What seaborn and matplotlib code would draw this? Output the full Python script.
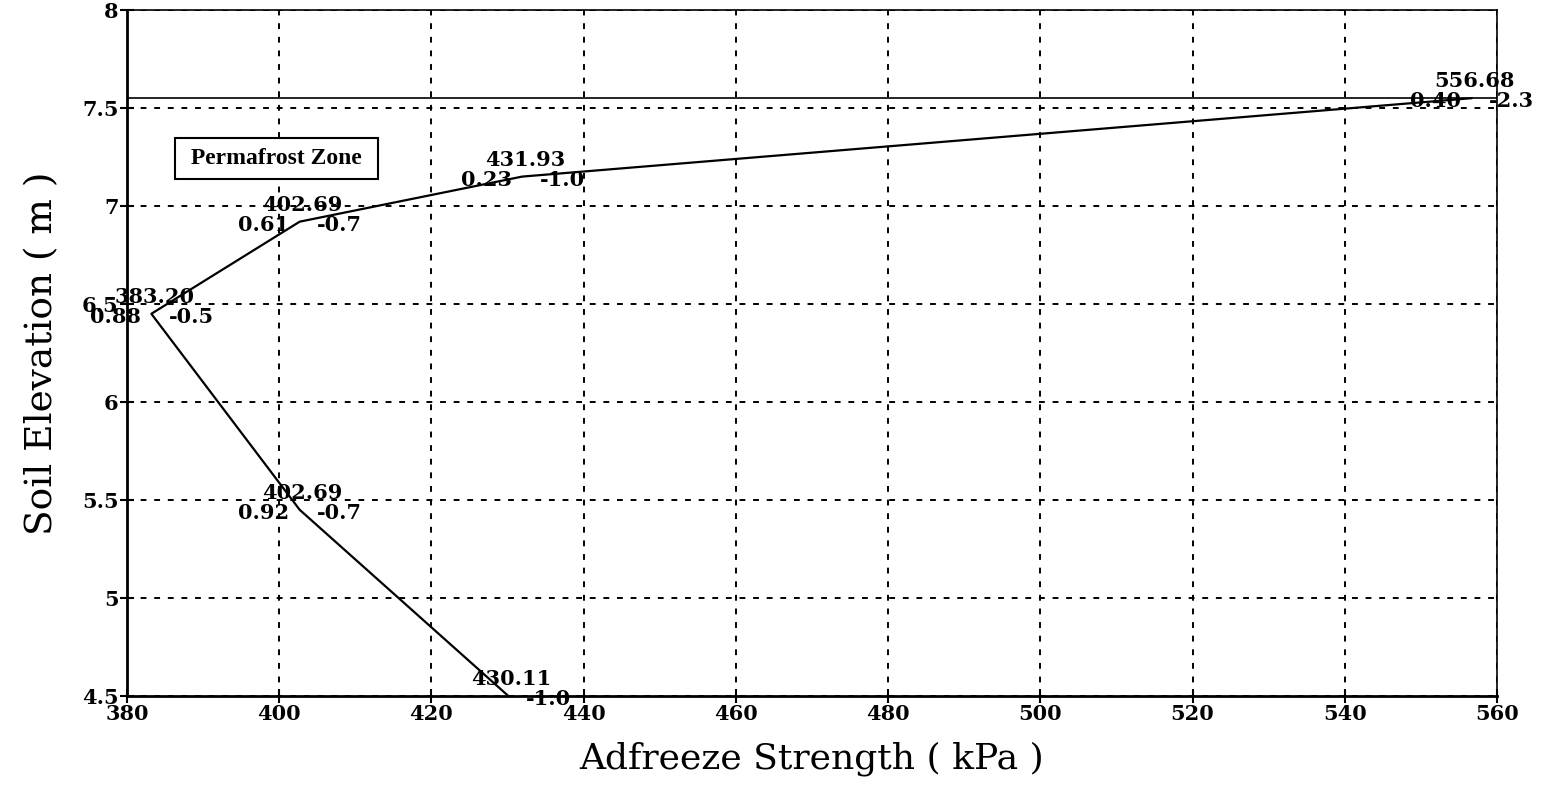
import matplotlib
matplotlib.use("Agg")
import matplotlib.pyplot as plt
import numpy as np
import pandas as pd
import seaborn as sns

# adfreeze strength profile along the pile
strength = [556.68, 431.93, 402.69, 383.20, 402.69, 430.11]
elevation = [7.55, 7.15, 6.92, 6.45, 5.45, 4.5]
left_lab = ["0.40", "0.23", "0.61", "0.88", "0.92", ""]
right_lab = ["-2.3", "-1.0", "-0.7", "-0.5", "-0.7", "-1.0"]
ground_level = 7.55

xticks = [380, 400, 420, 440, 460, 480, 500, 520, 540, 560]
yticks = [4.5, 5, 5.5, 6, 6.5, 7, 7.5, 8]
ytick_labels = ["4.5", "5", "5.5", "6", "6.5", "7", "7.5", "8"]

df = pd.DataFrame({"strength": strength, "elevation": elevation})

sns.set_style("white")
plt.rcParams["font.family"] = ["DejaVu Serif"]
plt.rcParams["text.color"] = "black"
plt.rcParams["axes.labelcolor"] = "black"
plt.rcParams["xtick.color"] = "black"
plt.rcParams["ytick.color"] = "black"

fig = plt.figure(figsize=(15.43, 7.92), dpi=100)
ax = fig.add_axes([0.0823, 0.1212, 0.8879, 0.8662])

sns.lineplot(data=df, x="strength", y="elevation", sort=False, color="black",
             linewidth=1.6, ax=ax, estimator=None)
ax.axhline(ground_level, color="black", linewidth=1.2)

ax.set_xlim(380, 560)
ax.set_ylim(4.5, 8)
ax.set_xticks(xticks)
ax.set_xticklabels([str(t) for t in xticks], fontweight="bold", fontsize=15)
ax.set_yticks(yticks)
ax.set_yticklabels(ytick_labels, fontweight="bold", fontsize=15)
ax.tick_params(axis="both", direction="inout", length=10, width=1.5, color="black",
               pad=1, bottom=True, left=True)
ax.grid(True, color="black", linestyle=(0, (3, 4)), linewidth=1.4)

for side in ["left", "bottom"]:
    ax.spines[side].set_linewidth(2)
    ax.spines[side].set_color("black")
for side in ["top", "right"]:
    ax.spines[side].set_linewidth(1.2)
    ax.spines[side].set_color("black")

for x, y, l, r in zip(strength, elevation, left_lab, right_lab):
    ax.annotate(f"{x:.2f}", (x, y), xytext=(3, 17), textcoords="offset pixels",
                ha="center", va="center", fontsize=15, fontweight="bold")
    if l:
        ax.annotate(l, (x, y), xytext=(-36, -3), textcoords="offset pixels",
                    ha="center", va="center", fontsize=15, fontweight="bold")
    ax.annotate(r, (x, y), xytext=(40, -3), textcoords="offset pixels",
                ha="center", va="center", fontsize=15, fontweight="bold")

ax.text(0.109, 0.784, " Permafrost Zone ", transform=ax.transAxes, ha="center", va="center",
        fontsize=17, fontweight="bold", family=["Liberation Serif"],
        bbox=dict(boxstyle="square,pad=0.42", facecolor="white", edgecolor="black", linewidth=1.5))

ax.set_xlabel("Adfreeze Strength ( kPa )", fontsize=26, labelpad=12)
ax.set_ylabel("Soil Elevation ( m )", fontsize=27, labelpad=16)

fig.savefig("out.png", dpi=100)
